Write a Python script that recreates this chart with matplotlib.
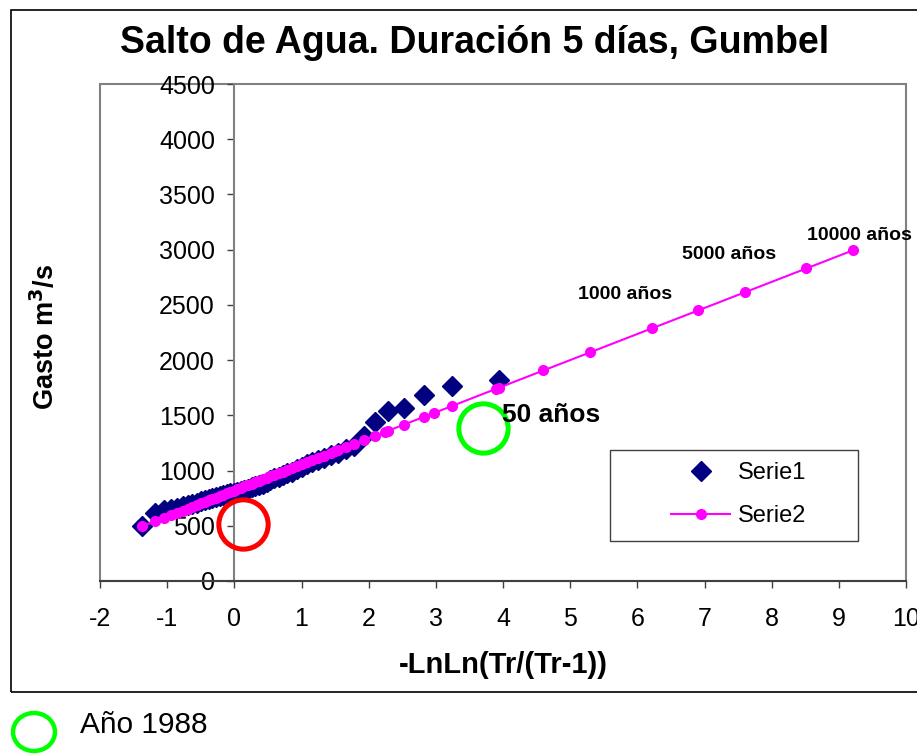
import matplotlib
matplotlib.use("Agg")
import matplotlib.pyplot as plt
from matplotlib.patches import Rectangle, Ellipse

plt.rcParams['font.family'] = ['Liberation Sans', 'DejaVu Sans']
plt.rcParams['axes.unicode_minus'] = False

# ---------------- data ----------------
# Serie1: observed (sorted) flows vs reduced variate -LnLn(Tr/(Tr-1))
serie1_x = [3.941, 3.239, 2.823, 2.525, 2.292, 2.099, 1.934, 1.789, 1.660, 1.544,
            1.437, 1.338, 1.246, 1.159, 1.078, 1.000, 0.926, 0.856, 0.788, 0.723,
            0.659, 0.598, 0.538, 0.480, 0.423, 0.367, 0.312, 0.257, 0.204, 0.151,
            0.098, 0.046, -0.007, -0.059, -0.112, -0.164, -0.218, -0.272, -0.327, -0.383,
            -0.440, -0.500, -0.562, -0.627, -0.696, -0.770, -0.851, -0.942, -1.048, -1.181,
            -1.374]
serie1_y = [1820, 1765, 1680, 1570, 1535, 1440, 1310, 1225, 1195, 1160,
            1140, 1115, 1095, 1080, 1060, 1030, 1010, 990, 975, 960,
            940, 930, 915, 900, 880, 870, 860, 850, 835, 825,
            815, 805, 800, 795, 790, 780, 770, 760, 750, 740,
            730, 720, 710, 700, 690, 680, 665, 650, 640, 615,
            495]

# Serie2: fitted Gumbel values (data positions + return periods up to 10000 years)
serie2_x = [-1.374, -1.181, -1.048, -0.942, -0.851, -0.770, -0.696, -0.627, -0.562, -0.500,
            -0.440, -0.383, -0.327, -0.272, -0.218, -0.164, -0.112, -0.059, -0.007, 0.046,
            0.098, 0.151, 0.204, 0.257, 0.312, 0.367, 0.367, 0.423, 0.480, 0.538,
            0.598, 0.659, 0.723, 0.788, 0.856, 0.926, 1.000, 1.078, 1.159, 1.246,
            1.338, 1.437, 1.500, 1.544, 1.660, 1.789, 1.934, 2.099, 2.250, 2.292,
            2.525, 2.823, 2.970, 3.239, 3.902, 3.941, 4.600, 5.296, 6.214, 6.907,
            7.600, 8.517, 9.210]
serie2_y = [496, 541, 573, 598, 619, 638, 656, 672, 687, 702,
            716, 730, 743, 756, 769, 781, 794, 806, 818, 831,
            843, 856, 868, 881, 894, 907, 907, 920, 933, 947,
            961, 976, 991, 1006, 1022, 1039, 1056, 1074, 1094, 1114,
            1136, 1159, 1174, 1184, 1212, 1242, 1276, 1315, 1351, 1361,
            1416, 1486, 1521, 1584, 1741, 1750, 1906, 2070, 2287, 2450,
            2614, 2830, 2994]

ret_labels = ["50 años", "1000 años", "5000 años", "10000 años"]
ret_label_xy = [(3.98, 1505), (5.12, 2590), (6.66, 2960), (8.53, 3125)]

highlight_red = (0.13, 520)     # circled point (data units)
highlight_green = (3.70, 1386)  # Año 1988

W, H = 917, 754
fig = plt.figure(figsize=(W / 100, H / 100), dpi=100)
fig.patch.set_facecolor('white')

def fx(px):
    return px / W

def fy(py):
    return 1 - py / H

# outer chart frame
fig.patches.append(Rectangle((fx(11), fy(692)), fx(930) - fx(11), fy(10) - fy(692),
                             transform=fig.transFigure, fill=False, edgecolor='black',
                             linewidth=1.2))

ax = fig.add_axes([fx(100), fy(581), fx(906) - fx(100), fy(84) - fy(581)])
ax.set_xlim(-2, 10)
ax.set_ylim(0, 4500)
ax.set_facecolor('white')

# plot-area border
ax.add_patch(Rectangle((0, 0), 1, 1, transform=ax.transAxes, fill=False,
                       edgecolor='#808080', linewidth=1.5, clip_on=False, zorder=0.5))

ax.spines['top'].set_visible(False)
ax.spines['right'].set_visible(False)
ax.spines['left'].set_position(('data', 0))
ax.spines['left'].set_color('#808080')
ax.spines['left'].set_linewidth(1.5)
ax.spines['bottom'].set_color('#404040')
ax.spines['bottom'].set_linewidth(1.5)

ax.set_xticks(range(-2, 11))
ax.set_yticks(range(0, 4501, 500))
ax.tick_params(axis='both', direction='out', length=5, width=1, color='#404040',
               labelsize=18, labelcolor='black')
ax.tick_params(axis='x', pad=14)
ax.tick_params(axis='y', pad=9)

ax.plot(serie1_x, serie1_y, linestyle='none', marker='D', markersize=10,
        color='#000080', label='Serie1', zorder=3, clip_on=False)
ax.plot(serie2_x, serie2_y, color='#FF00FF', linewidth=1.5, marker='o', markersize=7,
        label='Serie2', zorder=4, clip_on=False)

# highlight circles
ax.plot([highlight_red[0]], [highlight_red[1]], marker='o', markersize=35.5,
        markerfacecolor='none', markeredgecolor='#FF0000', markeredgewidth=3.6,
        linestyle='none', zorder=5, clip_on=False)
ax.plot([highlight_green[0]], [highlight_green[1]], marker='o', markersize=35.5,
        markerfacecolor='none', markeredgecolor='#00FF00', markeredgewidth=3.6,
        linestyle='none', zorder=5, clip_on=False)

for lab, (lx, ly) in zip(ret_labels, ret_label_xy):
    fs = 19 if lab.startswith("50 ") else 14
    ax.text(lx, ly, lab, fontsize=fs, fontweight='bold',
            ha='left', va='center', zorder=6)

leg = ax.legend(loc='upper left', bbox_to_anchor=(fx(671), fy(462)),
                bbox_transform=fig.transFigure,
                frameon=False, fontsize=17, handlelength=2.5,
                borderpad=0, labelspacing=0.9, handletextpad=0.35, borderaxespad=0)
fig.patches.append(Rectangle((fx(610), fy(541)), fx(858) - fx(610), fy(450) - fy(541),
                             transform=fig.transFigure, fill=False, edgecolor='#404040',
                             linewidth=1.0, zorder=2))

ax.set_xlabel('-LnLn(Tr/(Tr-1))', fontsize=21, fontweight='bold', va='center')
ax.xaxis.set_label_coords(0.5, -(665 - 581) / 497)
fig.text(fx(45), fy(337), 'Gasto m$^{\\mathbf{3}}$/s', rotation=90, fontsize=19.5,
         fontweight='bold', ha='center', va='center')

fig.text(fx(475), fy(43), 'Salto de Agua. Duración 5 días, Gumbel', fontsize=27,
         fontweight='bold', ha='center', va='center')

# bottom note
fig.patches.append(Ellipse((fx(34), fy(732)), fx(42), 38 / H, transform=fig.transFigure,
                           fill=False, edgecolor='#00FF00', linewidth=3.2))
fig.text(fx(80), fy(725), 'Año 1988', fontsize=21.5, ha='left', va='center')

fig.savefig('out.png', dpi=100, facecolor='white')
